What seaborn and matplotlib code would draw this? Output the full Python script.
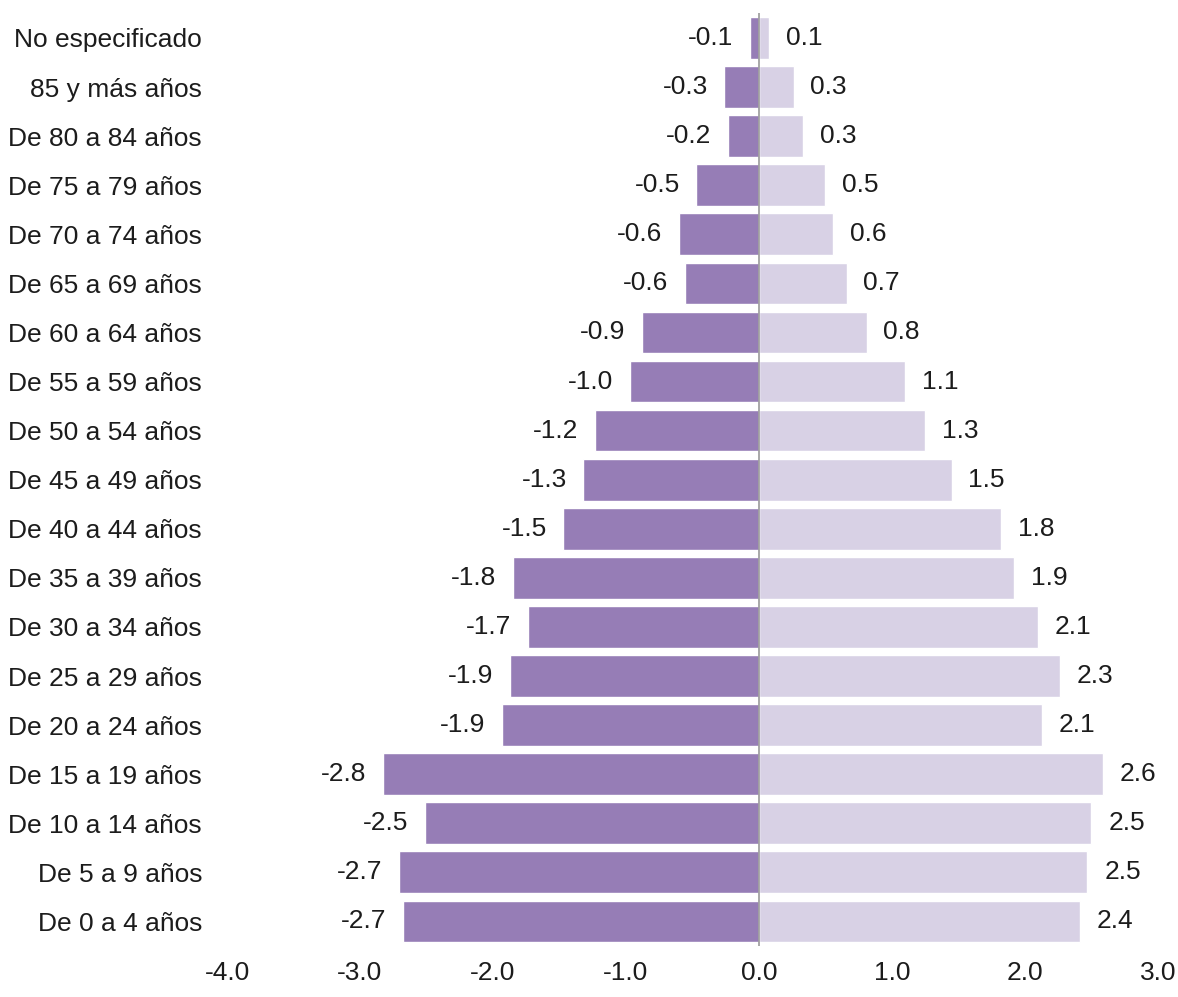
import numpy as np
import pandas as pd
import matplotlib
matplotlib.use("Agg")
import matplotlib.pyplot as plt
import seaborn as sns

# age groups, top to bottom
grupos = ["No especificado", "85 y más años", "De 80 a 84 años", "De 75 a 79 años",
          "De 70 a 74 años", "De 65 a 69 años", "De 60 a 64 años", "De 55 a 59 años",
          "De 50 a 54 años", "De 45 a 49 años", "De 40 a 44 años", "De 35 a 39 años",
          "De 30 a 34 años", "De 25 a 29 años", "De 20 a 24 años", "De 15 a 19 años",
          "De 10 a 14 años", "De 5 a 9 años", "De 0 a 4 años"]

# bar lengths (left side negative)
hombres = [-0.07, -0.26, -0.23, -0.47, -0.60, -0.56, -0.88, -0.97, -1.23, -1.32,
           -1.47, -1.85, -1.74, -1.87, -1.93, -2.83, -2.51, -2.71, -2.68]
mujeres = [0.075, 0.26, 0.33, 0.50, 0.56, 0.66, 0.81, 1.10, 1.25, 1.45,
           1.82, 1.92, 2.10, 2.26, 2.13, 2.59, 2.50, 2.47, 2.41]

# printed labels
etiq_h = ["-0.1", "-0.3", "-0.2", "-0.5", "-0.6", "-0.6", "-0.9", "-1.0", "-1.2", "-1.3",
          "-1.5", "-1.8", "-1.7", "-1.9", "-1.9", "-2.8", "-2.5", "-2.7", "-2.7"]
etiq_m = ["0.1", "0.3", "0.3", "0.5", "0.6", "0.7", "0.8", "1.1", "1.3", "1.5",
          "1.8", "1.9", "2.1", "2.3", "2.1", "2.6", "2.5", "2.5", "2.4"]

xticks = [-4.0, -3.0, -2.0, -1.0, 0.0, 1.0, 2.0, 3.0]

df = pd.DataFrame({
    "grupo": grupos * 2,
    "valor": hombres + mujeres,
    "sexo": ["Hombres"] * len(grupos) + ["Mujeres"] * len(grupos),
})

sns.set_style("white")
plt.rcParams["font.family"] = ["Liberation Sans", "DejaVu Sans"]
txt = "#1c1c1c"

fig = plt.figure(figsize=(11.78, 9.97), dpi=100)
ax = fig.add_axes([0.1927, 0.0512, 0.7903, 0.9353])

sns.barplot(data=df, x="valor", y="grupo", hue="sexo", order=grupos,
            palette={"Hombres": "#967db6", "Mujeres": "#d8d1e5"},
            dodge=False, width=0.85, legend=False, ax=ax, saturation=1)

for cont, labs in zip(ax.containers, [etiq_h, etiq_m]):
    ax.bar_label(cont, labels=labs, padding=12, fontsize=19, color=txt)

ax.axvline(0, color="#9a9a9a", lw=1.2)
ax.set_xlim(-4, 3)
ax.set_ylim(len(grupos) - 0.5, -0.5)
ax.set_xticks(xticks)
ax.set_xticklabels([f"{t:.1f}" for t in xticks])
ax.set_xlabel("")
ax.set_ylabel("")
ax.tick_params(axis="both", length=0, labelsize=19, colors=txt)
ax.tick_params(axis="x", pad=11)
ax.tick_params(axis="y", pad=18)
for s in ax.spines.values():
    s.set_visible(False)

fig.savefig("out.png", dpi=100)
